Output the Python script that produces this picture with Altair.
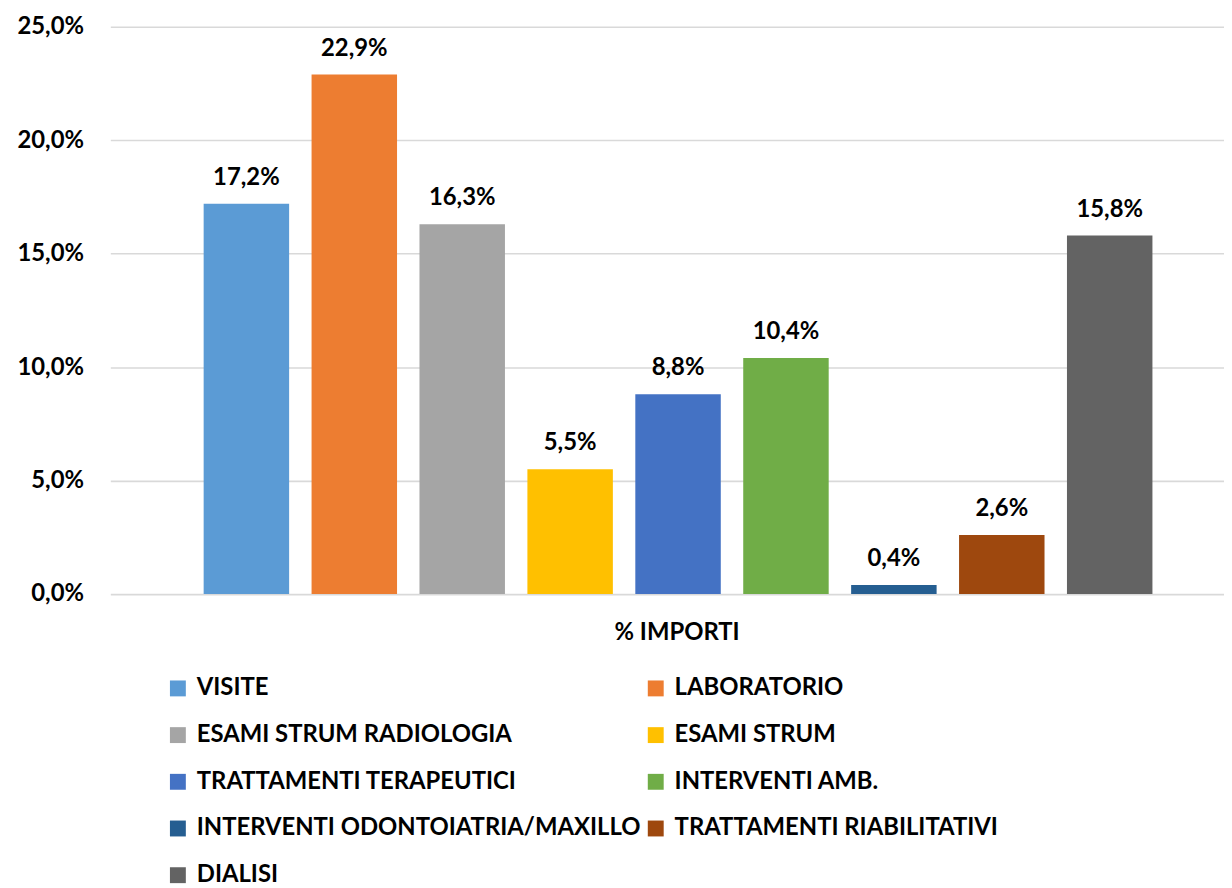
import altair as alt
import pandas as pd

categories = [
    "VISITE",
    "LABORATORIO",
    "ESAMI STRUM RADIOLOGIA",
    "ESAMI STRUM",
    "TRATTAMENTI TERAPEUTICI",
    "INTERVENTI AMB.",
    "INTERVENTI ODONTOIATRIA/MAXILLO",
    "TRATTAMENTI RIABILITATIVI",
    "DIALISI",
]
values = [17.2, 22.9, 16.3, 5.5, 8.8, 10.4, 0.4, 2.6, 15.8]
colors = ["#5B9BD5", "#ED7D31", "#A5A5A5", "#FFC000", "#4472C4",
          "#70AD47", "#255E91", "#9E480E", "#636363"]
y_ticks = [0, 5, 10, 15, 20, 25]
axis_title = "% IMPORTI"

df = pd.DataFrame({"categoria": categories, "valore": values})

FONT = "Lato"
FS = 24

x_enc = alt.X(
    "categoria:N",
    sort=categories,
    scale=alt.Scale(paddingInner=0.208, paddingOuter=0.764, align=0.566),
    axis=alt.Axis(labels=False, ticks=False, domain=False, grid=False,
                  title=axis_title, titleFont=FONT, titleFontSize=FS,
                  titleFontWeight="bold", titleColor="black",
                  titleX=570, titleY=39, titleBaseline="middle",
                  titleAlign="center"),
)
y_enc = alt.Y(
    "valore:Q",
    scale=alt.Scale(domain=[0, 25], nice=False, zero=True),
    axis=alt.Axis(values=y_ticks, title=None, domain=False, ticks=False,
                  tickSize=0, labelPadding=27, grid=True,
                  gridColor="#D9D9D9", gridWidth=1.7,
                  labelFont=FONT, labelFontSize=FS, labelFontWeight="bold",
                  labelColor="black",
                  labelExpr="replace(format(datum.value, '.1f'), '.', ',') + '%'"),
)

bars = alt.Chart(df).mark_bar().encode(
    x=x_enc,
    y=y_enc,
    color=alt.Color(
        "categoria:N",
        sort=categories,
        scale=alt.Scale(domain=categories, range=colors),
        legend=alt.Legend(orient="none", legendX=56, legendY=654, columns=2,
                          direction="horizontal",
                          title=None, symbolType="square", symbolSize=256,
                          symbolStrokeWidth=0, labelFont=FONT, labelFontSize=FS,
                          labelFontWeight="bold", labelColor="black",
                          labelLimit=800, labelOffset=7, rowPadding=23,
                          columnPadding=3, padding=0),
    ),
)

labels = alt.Chart(df).transform_calculate(
    etichetta="replace(format(datum.valore, '.1f'), '.', ',') + '%'"
).mark_text(dy=-26, font=FONT, fontSize=FS, fontWeight="bold",
            color="black", baseline="middle").encode(
    x=alt.X("categoria:N", sort=categories),
    y=alt.Y("valore:Q"),
    text="etichetta:N",
)

chart = (bars + labels).properties(
    width=1121, height=571,
    background="white",
    autosize=alt.AutoSizeParams(type="none"),
    padding={"left": 103, "top": 16, "right": 0, "bottom": 293},
).configure_view(stroke=None)

chart.save("out.html", embed_options={"renderer": "svg", "actions": False})
